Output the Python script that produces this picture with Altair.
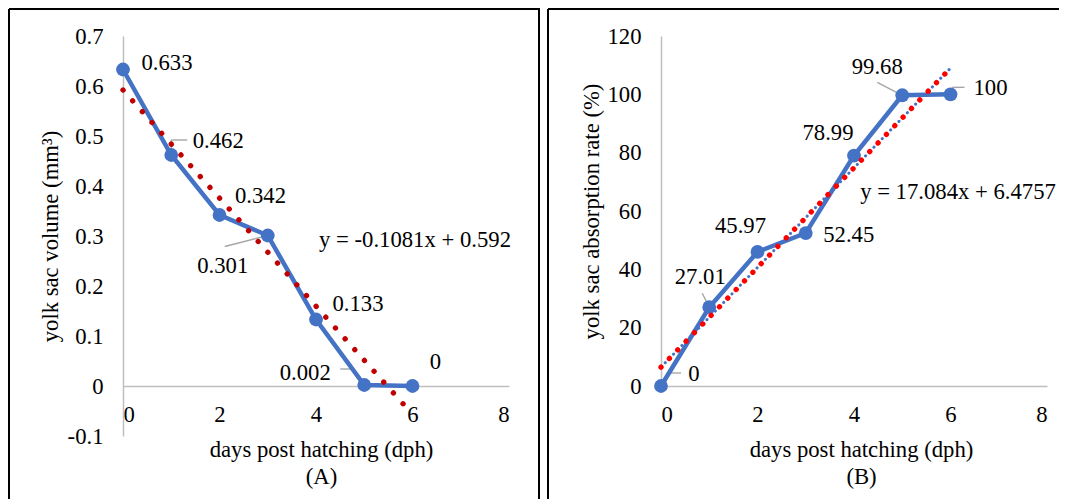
import altair as alt
import pandas as pd

# ---------------- data ----------------
days = [0, 1, 2, 3, 4, 5, 6]
volume = [0.633, 0.462, 0.342, 0.301, 0.133, 0.002, 0]
volume_labels = ["0.633", "0.462", "0.342", "0.301", "0.133", "0.002", "0"]
absorption = [0, 27.01, 45.97, 52.45, 78.99, 99.68, 100]
absorption_labels = ["0", "27.01", "45.97", "52.45", "78.99", "99.68", "100"]

trend_days = [0, 6]
volume_trend = [0.592, -0.0566]          # y = -0.1081x + 0.592
absorption_trend = [6.4757, 108.9797]    # y = 17.084x + 6.4757
volume_eq = "y = -0.1081x + 0.592"
absorption_eq = "y = 17.084x + 6.4757"

x_ticks = [0, 2, 4, 6, 8]
volume_ticks = [-0.1, 0, 0.1, 0.2, 0.3, 0.4, 0.5, 0.6, 0.7]
absorption_ticks = [0, 20, 40, 60, 80, 100, 120]

# ---------------- style ----------------
FONT = "Liberation Serif"
FS = 22.7
BLUE = "#4472C4"
GRAY = "#BFBFBF"
LEADER = "#A6A6A6"
W = 386

# pixel offsets of data labels from their points (dx, dy)
vol_label_off = [(44, -7), (47, -14), (41, -19), (-45, 30), (42, -16), (-59, -12), (23, -24)]
abs_label_off = [(33, -12), (-9, -30), (-17, -26), (43, 2), (-26, -23), (-25, -28), (40, -6)]
# leader line segments: (index, x1, y1, x2, y2) pixel offsets from the point
vol_leaders = [(1, 0, -2, 0, -15), (1, 0, -15, 16, -15),
               (3, -43, 11, 0, 0),
               (5, -24, -16, -12, -16), (5, -12, -16, 0, 0)]
abs_leaders = [(0, 8, -13, 20, -13), (0, 8, -13, 0, 0),
               (1, -7, -14, 0, 0),
               (5, -25, -13, 0, 0),
               (6, 2, -7, 14, -7), (6, 2, -7, 2, 0)]


def panel(values, labels, trend, yticks, ydomain, height, ytitle, caption,
          label_off, leaders, eq_text, eq_pos, trend_color, dot_period,
          blue_trend, xaxis_offset, xtitle_x, ytitle_x, label_expr,
          border_left, border_right, top_right):
    df = pd.DataFrame({"day": days, "v": values, "lab": labels})
    tdf = pd.DataFrame({"day": trend_days, "v": trend})
    one = pd.DataFrame({"k": [0]})

    xenc = alt.X("day:Q",
                 scale=alt.Scale(domain=[0, 8], nice=False, zero=False),
                 axis=alt.Axis(values=x_ticks, title=["days post hatching (dph)", caption],
                               offset=xaxis_offset, labelPadding=17,
                               titleX=xtitle_x, titleY=70, titleBaseline="alphabetic",
                               titleAlign="center", titleLineHeight=27,
                               labelAngle=0))
    yaxis_kw = dict(values=yticks, title=ytitle, labelPadding=20,
                    titleX=ytitle_x, titleY=height / 2, titleBaseline="middle",
                    titleAlign="center", titleAngle=270)
    if label_expr:
        yaxis_kw["labelExpr"] = label_expr
    yenc = alt.Y("v:Q",
                 scale=alt.Scale(domain=ydomain, nice=False, zero=False),
                 axis=alt.Axis(**yaxis_kw))

    base = alt.Chart(df)
    layers = []
    # leader lines
    for i, x1, y1, x2, y2 in leaders:
        layers.append(
            base.transform_filter(alt.datum.day == i)
            .mark_rule(color=LEADER, strokeWidth=1.4, xOffset=x1, yOffset=y1,
                       x2Offset=x2, y2Offset=y2)
            .encode(x=xenc, y=yenc, x2=alt.X2("day"), y2=alt.Y2("v"))
        )
    # data line + markers
    layers.append(base.mark_line(color=BLUE, strokeWidth=4.5).encode(x=xenc, y=yenc))
    layers.append(base.mark_circle(color=BLUE, size=190, opacity=1).encode(x=xenc, y=yenc))
    # trend lines
    if blue_trend:
        layers.append(alt.Chart(tdf).mark_line(color=BLUE, strokeWidth=3, strokeCap="round",
                                               strokeDash=[0.1, dot_period],
                                               strokeDashOffset=dot_period / 2)
                      .encode(x=xenc, y=yenc))
    layers.append(alt.Chart(tdf).mark_line(color=trend_color, strokeWidth=5.3, strokeCap="round",
                                           strokeDash=[0.1, dot_period])
                  .encode(x=xenc, y=yenc))
    # data labels
    for i, (dx, dy) in enumerate(label_off):
        layers.append(
            base.transform_filter(alt.datum.day == i)
            .mark_text(font=FONT, fontSize=FS, color="black", dx=dx, dy=dy,
                       align="center", baseline="middle")
            .encode(x=xenc, y=yenc, text="lab:N")
        )
    # equation
    layers.append(alt.Chart(one).mark_text(font=FONT, fontSize=FS, color="black",
                                           align="center", baseline="middle")
                  .encode(x=alt.value(eq_pos[0]), y=alt.value(eq_pos[1]),
                          text=alt.value(eq_text)))
    # panel border
    border = dict(color="black", strokeWidth=2)
    layers.append(alt.Chart(one).mark_rule(**border)
                  .encode(x=alt.value(border_left), x2=alt.value(top_right),
                          y=alt.value(-27)))
    layers.append(alt.Chart(one).mark_rule(**border)
                  .encode(x=alt.value(border_left), y=alt.value(-27), y2=alt.value(475)))
    if border_right is not None:
        layers.append(alt.Chart(one).mark_rule(**border)
                      .encode(x=alt.value(border_right), y=alt.value(-27), y2=alt.value(475)))
    return alt.layer(*layers).properties(width=W, height=height)


left = panel(volume, volume_labels, volume_trend, volume_ticks, [-0.1, 0.7], 400,
             "yolk sac volume (mm³)", "(A)", vol_label_off, vol_leaders,
             volume_eq, (292, 204), "#C00000", 14.4, False, -50, 198, -73,
             "datum.value < 0 ? '-' + format(-datum.value, '.1~f') : format(datum.value, '.1~f')",
             -114, 416, 417)

right = panel(absorption, absorption_labels, absorption_trend, absorption_ticks, [0, 120], 350,
              "yolk sac absorption rate (%)", "(B)", abs_label_off, abs_leaders,
              absorption_eq, (297, 156), "#FF0000", 11.9, True, 0, 200, -70,
              None, -113, None, 398)

chart = (
    alt.hconcat(left, right, spacing=6)
    .properties(padding=0)
    .configure_view(stroke=None)
    .configure_axis(labelFont=FONT, labelFontSize=FS, labelColor="black",
                    titleFont=FONT, titleFontSize=FS, titleFontWeight="normal",
                    titleColor="black", grid=False, ticks=False,
                    domainColor=GRAY, domainWidth=1.5)
)

chart.save("out.html", embed_options={"renderer": "svg", "actions": False})
